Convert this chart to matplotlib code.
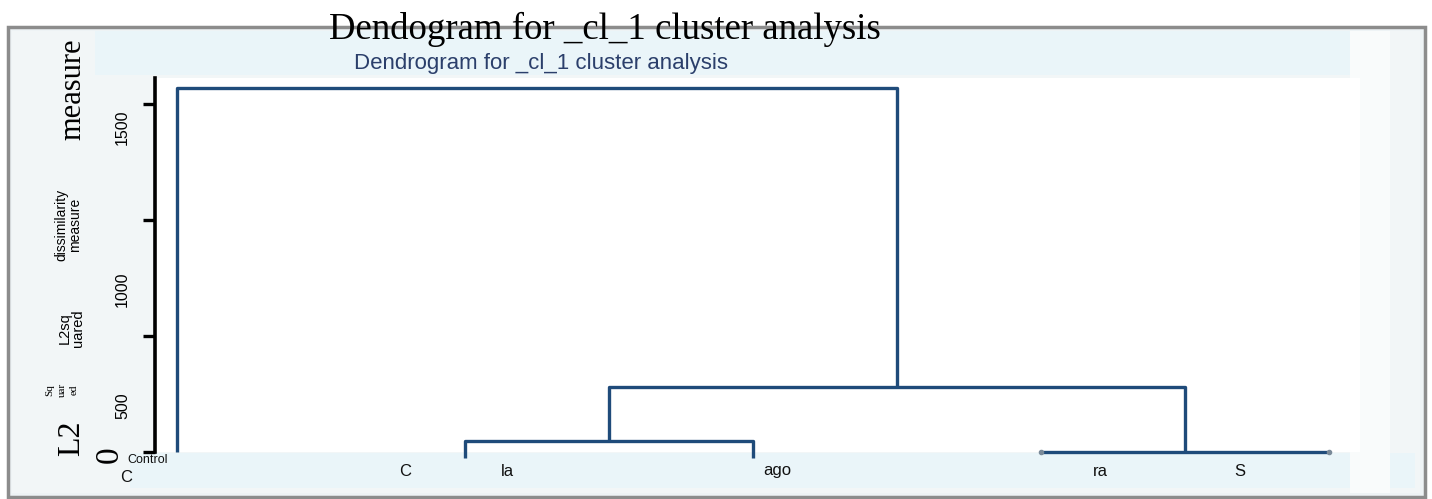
import matplotlib
matplotlib.use("Agg")
import matplotlib.pyplot as plt
import matplotlib.transforms as mtransforms
from matplotlib.patches import Rectangle

# ── data ──────────────────────────────────────
leaf_names = ["Control", "la", "ago", "ra", "S"]
leaf_base = [0, -25, -25, 0, 0]          # bottom of each leaf stem
# merges (scipy style): new node id = 5, 6, 7, 8
merge_left = [3, 1, 6, 0]
merge_right = [4, 2, 5, 7]
merge_height = [2, 47, 280, 1570]

y_ticks = [0, 500, 1000, 1500]
y_tick_labels = ["0", "500", "1000", "1500"]

W, H = 1432, 499
LINE = "#1f4b7a"


def fx(px):
    return px / W


def fy(py):
    return 1 - py / H


fig = plt.figure(figsize=(W / 100, H / 100), dpi=100, facecolor="white")

# frame + background panels (figure coordinates from pixel positions)
def rect(x0, y0, x1, y1, **kw):
    fig.patches.append(Rectangle((fx(x0), fy(y1)), fx(x1 - x0), (y1 - y0) / H,
                                 transform=fig.transFigure, zorder=-5, **kw))

rect(8, 27, 1425, 497, facecolor="#eef3f5", edgecolor="#8c8c8c", linewidth=2.5)
rect(12, 31, 1420, 493, facecolor="#f2f6f7", edgecolor="none")
rect(95, 31, 1350, 75, facecolor="#eaf5f9", edgecolor="none")
rect(130, 453, 1415, 488, facecolor="#eaf5f9", edgecolor="none")
rect(1350, 31, 1390, 493, facecolor="#f9fbfb", edgecolor="none")

# ── axes ──────────────────────────────────────
ax = fig.add_axes([fx(155), fy(452), fx(1360 - 155), (452 - 78) / H])
ax.set_zorder(2)
ax.set_facecolor("white")
ax.set_xlim((155 - 177) / 288, (1360 - 177) / 288)
ax.set_ylim(0, (452 - 78) / 116 * 500)

# dendrogram coordinates
pos = {i: float(i) for i in range(len(leaf_names))}
top = {i: leaf_base[i] for i in range(len(leaf_names))}
for k, (a, b, h) in enumerate(zip(merge_left, merge_right, merge_height)):
    node = len(leaf_names) + k
    ax.plot([pos[a], pos[a], pos[b], pos[b]], [top[a], h, h, top[b]],
            color=LINE, lw=2.4, solid_capstyle="butt", clip_on=False, zorder=3)
    pos[node] = (pos[a] + pos[b]) / 2
    top[node] = h

# faint leaf-end dots
ax.plot([3, 4], [0, 0], "o", ms=3, color="#7a8a99", clip_on=False, zorder=4)

for s in ["top", "right", "bottom"]:
    ax.spines[s].set_visible(False)
ax.spines["left"].set_linewidth(2.6)
ax.set_xticks([])
ax.set_yticks(y_ticks)
ax.set_yticklabels(y_tick_labels, rotation=90, va="center", fontsize=11.5,
                   family="Liberation Sans")
ax.tick_params(axis="y", length=9, width=2.4, pad=9)

# labels sit shifted relative to their ticks in the source picture
shifts = [(-4, -2), (0, -50), (0, -50), (0, -17)]
for lab, (dx, dy) in zip(ax.get_yticklabels(), shifts):
    lab.set_transform(lab.get_transform() +
                      mtransforms.ScaledTranslation(dx / 72, dy / 72, fig.dpi_scale_trans))
zero = ax.get_yticklabels()[0]
zero.set_fontsize(24)
zero.set_family("Liberation Serif")

# ── texts ─────────────────────────────────────
fig.text(fx(605), fy(29), "Dendogram for _cl_1 cluster analysis", ha="center", va="center",
         fontsize=26.5, family="Liberation Serif", color="black")
fig.text(fx(541), fy(63), "Dendrogram for _cl_1 cluster analysis", ha="center", va="center",
         fontsize=16, family="Liberation Sans", color="#2b3f6b")

fig.text(fx(73), fy(89), "measure", rotation=90, ha="center", va="center",
         fontsize=22, family="Liberation Serif")
fig.text(fx(72), fy(438), "L2", rotation=90, ha="center", va="center",
         fontsize=23, family="Liberation Serif")
fig.text(fx(68), fy(225), "dissimilarity\nmeasure", rotation=90, ha="center", va="center",
         fontsize=10, family="Liberation Sans", linespacing=0.95)
fig.text(fx(71), fy(328), "L2sq\nuared", rotation=90, ha="center", va="center",
         fontsize=10.5, family="Liberation Sans", linespacing=0.95)
fig.text(fx(62), fy(390), "Sq\nuar\ned", rotation=90, ha="center", va="center",
         fontsize=8, family="Liberation Serif", linespacing=1.5)

bottom_texts = [("Control", 148, 460, 9), ("C", 126, 478, 12), ("C", 405, 471, 12),
                ("la", 507, 471, 12), ("ago", 777, 471, 12), ("ra", 1100, 471, 12),
                ("S", 1240, 471, 12)]
for t, x, y, s in bottom_texts:
    fig.text(fx(x), fy(y), t, ha="center", va="center", fontsize=s,
             family="Liberation Sans", color="#111111", zorder=4)

fig.savefig("out.png", dpi=100, facecolor="white")
